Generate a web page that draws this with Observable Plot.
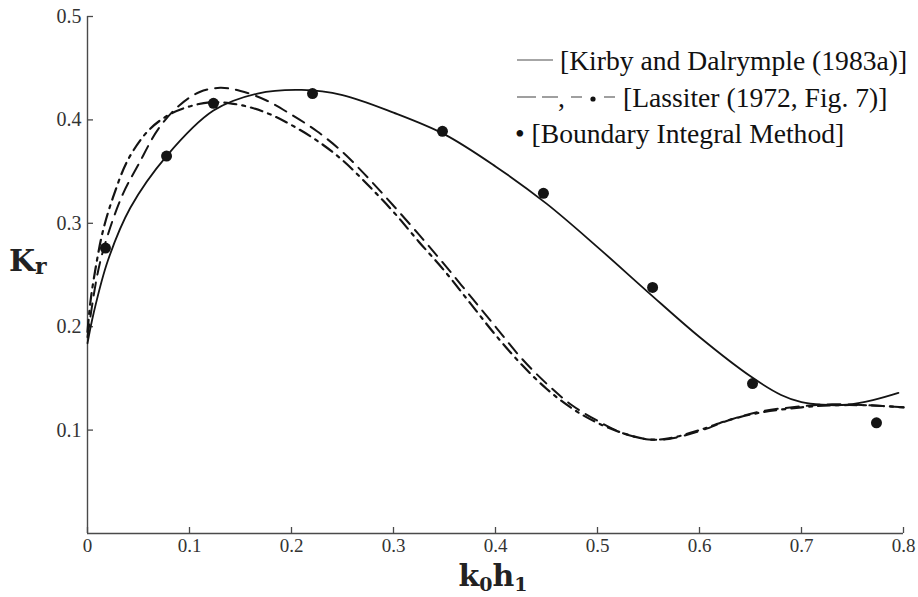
<!DOCTYPE html>
<html>
<head>
<meta charset="utf-8">
<script src="https://cdn.jsdelivr.net/npm/d3@7"></script>
<script src="https://cdn.jsdelivr.net/npm/@observablehq/plot@0.6"></script>
<style>
  html, body { margin: 0; padding: 0; background: #fff; }
  #wrap { position: relative; width: 918px; height: 597px; }
  #overlay { position: absolute; left: 0; top: 0; pointer-events: none; }
  #wrap svg text { font-family: "Liberation Serif", "Times New Roman", serif; }
  #wrap svg text.mono { font-family: "DejaVu Serif", serif; }
</style>
</head>
<body>
<div id="wrap"></div>
<script>
// ---- data ----
const xTicks = [0, 0.1, 0.2, 0.3, 0.4, 0.5, 0.6, 0.7, 0.8];
const xTickLabels = ["0", "0.1", "0.2", "0.3", "0.4", "0.5", "0.6", "0.7", "0.8"];
const yTicks = [0.1, 0.2, 0.3, 0.4, 0.5];
const yTickLabels = ["0.1", "0.2", "0.3", "0.4", "0.5"];

// Kirby and Dalrymple (1983a) — solid
const kirbyX = [0, 0.006, 0.02, 0.042, 0.0775, 0.1235, 0.1667, 0.21, 0.25, 0.30, 0.35, 0.40, 0.45, 0.50, 0.55, 0.60, 0.65, 0.68, 0.70, 0.72, 0.745, 0.77, 0.795];
const kirbyY = [0.184, 0.213, 0.264, 0.315, 0.365, 0.409, 0.4255, 0.429, 0.424, 0.407, 0.386, 0.355, 0.319, 0.277, 0.233, 0.190, 0.152, 0.134, 0.127, 0.1245, 0.1245, 0.129, 0.136];

// Lassiter (1972, Fig. 7) — dashed
const lassDashX = [0, 0.01, 0.02, 0.035, 0.05, 0.07, 0.09, 0.11, 0.13, 0.15, 0.175, 0.2, 0.225, 0.25, 0.275, 0.3, 0.325, 0.35, 0.375, 0.4, 0.425, 0.45, 0.475, 0.5, 0.525, 0.55, 0.57, 0.6, 0.63, 0.66, 0.7, 0.73, 0.765, 0.8];
const lassDashY = [0.19, 0.252, 0.289, 0.329, 0.357, 0.392, 0.414, 0.427, 0.431, 0.428, 0.419, 0.405, 0.389, 0.369, 0.344, 0.317, 0.289, 0.260, 0.230, 0.200, 0.170, 0.145, 0.124, 0.109, 0.097, 0.091, 0.0915, 0.099, 0.110, 0.118, 0.123, 0.125, 0.124, 0.122];

// Lassiter (1972, Fig. 7) — dash-dot
const lassDotX = [0, 0.003, 0.008, 0.015, 0.025, 0.04, 0.06, 0.08, 0.1, 0.12, 0.14, 0.16, 0.18, 0.2, 0.225, 0.25, 0.275, 0.3, 0.325, 0.35, 0.375, 0.4, 0.425, 0.45, 0.475, 0.5, 0.525, 0.55, 0.57, 0.6, 0.63, 0.66, 0.7, 0.73, 0.765, 0.8];
const lassDotY = [0.195, 0.225, 0.257, 0.292, 0.325, 0.362, 0.390, 0.405, 0.413, 0.417, 0.416, 0.412, 0.405, 0.395, 0.380, 0.361, 0.337, 0.311, 0.282, 0.254, 0.223, 0.192, 0.164, 0.140, 0.121, 0.107, 0.097, 0.091, 0.092, 0.100, 0.110, 0.117, 0.122, 0.124, 0.124, 0.122];

// Boundary Integral Method — points
const bimX = [0.0176, 0.0775, 0.1235, 0.2206, 0.348, 0.447, 0.554, 0.652, 0.7735];
const bimY = [0.276, 0.365, 0.416, 0.4255, 0.389, 0.329, 0.238, 0.145, 0.107];

const legendLabels = ["[Kirby and Dalrymple (1983a)]", "[Lassiter (1972, Fig. 7)]", "[Boundary Integral Method]"];
const yLabel = ["K", "r"];
const xLabel = ["k", "0", "h", "1"];

// ---- chart ----
const ink = "#141414";
const axisInk = "#4a4a4a";
const serif = "Liberation Serif";

const chart = Plot.plot({
  width: 918,
  height: 597,
  marginLeft: 87,
  marginRight: 15,
  marginTop: 16,
  marginBottom: 64,
  style: { background: "#fff", color: axisInk, fontFamily: serif },
  x: { domain: [0, 0.8] },
  y: { domain: [0, 0.5] },
  marks: [
    Plot.ruleX([0], { stroke: axisInk, strokeWidth: 1.4 }),
    Plot.ruleY([0], { stroke: axisInk, strokeWidth: 1.4 }),
    Plot.axisX(xTicks, {
      tickSize: -6, tickPadding: 11, stroke: axisInk, strokeWidth: 1.3,
      tickFormat: (d, i) => xTickLabels[i],
      fontSize: 19, fontFamily: serif, fill: "#333", label: null
    }),
    Plot.axisY(yTicks, {
      tickSize: -6, tickPadding: 12, stroke: axisInk, strokeWidth: 1.3,
      tickFormat: (d, i) => yTickLabels[i],
      fontSize: 20, fontFamily: serif, fill: "#333", label: null
    }),
    Plot.line(kirbyX, { x: kirbyX, y: kirbyY, curve: "catmull-rom", stroke: ink, strokeWidth: 1.8 }),
    Plot.line(lassDashX, { x: lassDashX, y: lassDashY, curve: "catmull-rom", stroke: ink, strokeWidth: 2, strokeDasharray: "13,8" }),
    Plot.line(lassDotX, { x: lassDotX, y: lassDotY, curve: "catmull-rom", stroke: ink, strokeWidth: 2.2, strokeDasharray: "12,6,3,6" }),
    Plot.dot(bimX, { x: bimX, y: bimY, r: 5.5, fill: ink, stroke: "none" })
  ]
});

const wrap = document.getElementById("wrap");
wrap.appendChild(chart);

// ---- legend and axis titles (overlay) ----
const ov = `
<svg id="overlay" width="918" height="597" xmlns="http://www.w3.org/2000/svg">
  <g font-size="27.6" fill="#111">
    <line x1="517" x2="553" y1="60" y2="60" stroke="#888" stroke-width="1.4"/>
    <text x="560" y="70">${legendLabels[0]}</text>
    <line x1="517" x2="536" y1="97" y2="97" stroke="#888" stroke-width="1.6"/>
    <line x1="542" x2="558" y1="97" y2="97" stroke="#888" stroke-width="1.6"/>
    <text x="558" y="107">,</text>
    <line x1="571" x2="582" y1="97" y2="97" stroke="#888" stroke-width="1.6"/>
    <circle cx="593" cy="99" r="2.6" fill="#111"/>
    <line x1="604" x2="615" y1="97" y2="97" stroke="#888" stroke-width="1.6"/>
    <text x="623" y="107">${legendLabels[1]}</text>
    <text x="515" y="143">• ${legendLabels[2]}</text>
  </g>
  <text class="mono" x="9" y="271" font-weight="bold" font-size="30" fill="#222">${yLabel[0]}<tspan font-size="22" dy="3">${yLabel[1]}</tspan></text>
  <text class="mono" x="493" y="586" text-anchor="middle" font-weight="bold" font-size="30" fill="#222">${xLabel[0]}<tspan font-size="19" dy="5">${xLabel[1]}</tspan><tspan dy="-5">${xLabel[2]}</tspan><tspan font-size="19" dy="5">${xLabel[3]}</tspan></text>
</svg>`;
wrap.insertAdjacentHTML("beforeend", ov);
</script>
</body>
</html>
